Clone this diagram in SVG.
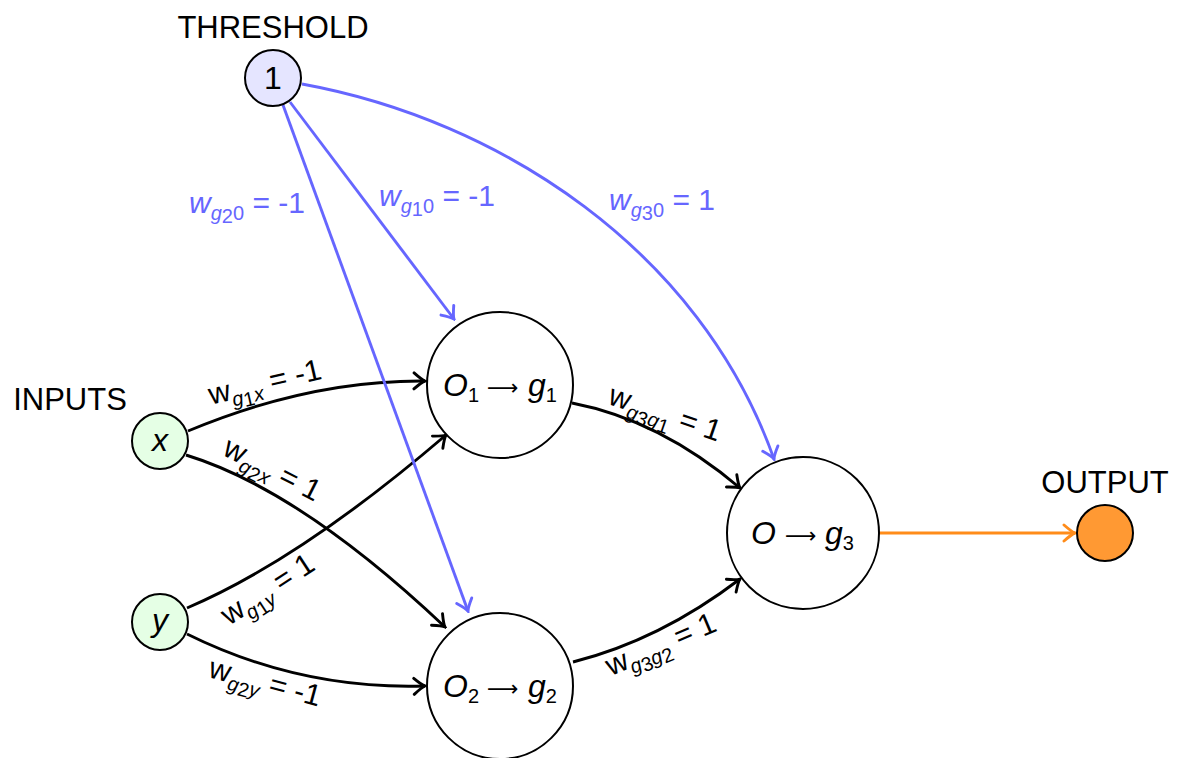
<svg xmlns="http://www.w3.org/2000/svg" width="1177" height="758" viewBox="0 0 1177 758">
<defs>
<style>
text{font-family:"Liberation Sans",Arial,sans-serif;}
.lbl{font-size:31px;fill:#000;text-anchor:middle;}
.node{stroke:#000;stroke-width:2;}
.e{fill:none;stroke-width:2.9;}
.k{stroke:#000;}
.b{stroke:#6666FF;}
.o{stroke:#FF8C1A;}
.el{font-size:30px;text-anchor:middle;}
.it{font-style:italic;}
.sub{font-size:20px;}
.nt{font-size:32px;text-anchor:middle;}
.ns{font-size:32px;}
text tspan.ar{font-family:"DejaVu Sans",sans-serif;font-size:22px;}
</style>
<marker id="ak" viewBox="-13 -10 15 20" refX="0" refY="0" markerWidth="15" markerHeight="20" markerUnits="userSpaceOnUse" orient="auto">
<path d="M-11,-8 Q-3,-1 0,0 Q-3,1 -11,8" fill="none" stroke="#000" stroke-width="2.9" stroke-linecap="round"/>
</marker>
<marker id="ab" viewBox="-13 -10 15 20" refX="0" refY="0" markerWidth="15" markerHeight="20" markerUnits="userSpaceOnUse" orient="auto">
<path d="M-11,-8 Q-3,-1 0,0 Q-3,1 -11,8" fill="none" stroke="#6666FF" stroke-width="2.9" stroke-linecap="round"/>
</marker>
<marker id="ao" viewBox="-13 -10 15 20" refX="0" refY="0" markerWidth="15" markerHeight="20" markerUnits="userSpaceOnUse" orient="auto">
<path d="M-11,-8 Q-3,-1 0,0 Q-3,1 -11,8" fill="none" stroke="#FF8C1A" stroke-width="2.9" stroke-linecap="round"/>
</marker>
</defs>
<rect width="1177" height="758" fill="#fff"/>

<g id="connectors">
<path class="e k" d="M188,431 Q310,380 425,381" marker-end="url(#ak)"/>
<path class="e k" d="M186,455 Q300,490 445,627" marker-end="url(#ak)"/>
<path class="e k" d="M187,608 Q300,560 446,435" marker-end="url(#ak)"/>
<path class="e k" d="M187,634 Q300,690 425,686" marker-end="url(#ak)"/>
<path class="e k" d="M572,403 Q660,420 740,488" marker-end="url(#ak)"/>
<path class="e k" d="M573,662 Q660,640 740,579" marker-end="url(#ak)"/>
<path class="e o" d="M879,533 L1075,533" marker-end="url(#ao)"/>
<path class="e b" d="M290,102 L454,319" marker-end="url(#ab)"/>
<path class="e b" d="M283,105 L468,611" marker-end="url(#ab)"/>
<path class="e b" d="M302,84 C500,120 700,250 774,459" marker-end="url(#ab)"/>

<text class="el" transform="translate(265,383) rotate(-13)" y="9">w<tspan class="sub it" dy="7">g</tspan><tspan class="sub" font-size="14" dy="3">1</tspan><tspan class="sub it" dy="-3">x</tspan><tspan dy="-7"> = -1</tspan></text>
<text class="el" transform="translate(272,470) rotate(27)" y="9">w<tspan class="sub it" dy="7">g</tspan><tspan class="sub" font-size="14" dy="3">2</tspan><tspan class="sub it" dy="-3">x</tspan><tspan dy="-7"> = 1</tspan></text>
<text class="el" transform="translate(268,590) rotate(-33)" y="9">w<tspan class="sub it" dy="7">g</tspan><tspan class="sub" font-size="14" dy="3">1</tspan><tspan class="sub it" dy="-3">y</tspan><tspan dy="-7"> = 1</tspan></text>
<text class="el" transform="translate(265,683) rotate(15)" y="9">w<tspan class="sub it" dy="7">g</tspan><tspan class="sub" font-size="14" dy="3">2</tspan><tspan class="sub it" dy="-3">y</tspan><tspan dy="-7"> = -1</tspan></text>
<text class="el" transform="translate(665,414) rotate(19)" y="9">w<tspan class="sub it" dy="7">g</tspan><tspan class="sub" font-size="14" dy="3">3</tspan><tspan class="sub it" dy="-3">g</tspan><tspan class="sub" font-size="14" dy="3">1</tspan><tspan dy="-10"> = 1</tspan></text>
<text class="el" transform="translate(661,645) rotate(-23)" y="9">w<tspan class="sub it" dy="7">g</tspan><tspan class="sub" font-size="14" dy="3">3</tspan><tspan class="sub it" dy="-3">g</tspan><tspan class="sub" font-size="14" dy="3">2</tspan><tspan dy="-10"> = 1</tspan></text>

<text class="el it" x="247" y="213" fill="#6666FF">w<tspan class="sub" dy="7">g</tspan><tspan class="sub" font-size="14" font-style="normal" dy="3">2</tspan><tspan class="sub" font-style="normal" dy="-3">0</tspan><tspan font-style="normal" dy="-7"> = -1</tspan></text>
<text class="el it" x="437" y="206" fill="#6666FF">w<tspan class="sub" dy="7">g</tspan><tspan class="sub" font-size="14" font-style="normal" dy="3">1</tspan><tspan class="sub" font-style="normal" dy="-3">0</tspan><tspan font-style="normal" dy="-7"> = -1</tspan></text>
<text class="el it" x="662" y="210" fill="#6666FF">w<tspan class="sub" dy="7">g</tspan><tspan class="sub" font-size="14" font-style="normal" dy="3">3</tspan><tspan class="sub" font-style="normal" dy="-3">0</tspan><tspan font-style="normal" dy="-7"> = 1</tspan></text>
</g>

<g id="threshold">
<text class="lbl" x="273" y="38">THRESHOLD</text>
<circle class="node" cx="273" cy="78" r="28" fill="#E5E5FF"/>
<text class="nt" x="273" y="89" font-size="28">1</text>
</g>
<g id="input-x">
<text class="lbl" x="70" y="410">INPUTS</text>
<circle class="node" cx="160" cy="441" r="28" fill="#E5FFE5"/>
<text class="nt it" x="160" y="451">x</text>
</g>
<g id="input-y">
<circle class="node" cx="160" cy="622" r="28" fill="#E5FFE5"/>
<text class="nt it" x="160" y="631">y</text>
</g>
<g id="g1">
<circle class="node" cx="500" cy="385" r="73" fill="#fff"/>
<text class="ns" x="443" y="396"><tspan class="it">O</tspan><tspan class="sub" dy="6">1</tspan><tspan class="ar" x="487" dy="-7">⟶</tspan><tspan class="it" x="528" dy="1">g</tspan><tspan class="sub" dy="6">1</tspan></text>
</g>
<g id="g2">
<circle class="node" cx="500" cy="686" r="73" fill="#fff"/>
<text class="ns" x="443" y="697"><tspan class="it">O</tspan><tspan class="sub" dy="6">2</tspan><tspan class="ar" x="487" dy="-7">⟶</tspan><tspan class="it" x="528" dy="1">g</tspan><tspan class="sub" dy="6">2</tspan></text>
</g>
<g id="g3">
<circle class="node" cx="803" cy="533" r="76" fill="#fff"/>
<text class="ns" x="751" y="544"><tspan class="it">O</tspan><tspan class="ar" x="785" dy="-1">⟶</tspan><tspan class="it" x="825" dy="1">g</tspan><tspan class="sub" dy="6">3</tspan></text>
</g>
<g id="output">
<text class="lbl" x="1105" y="493">OUTPUT</text>
<circle class="node" cx="1105" cy="533" r="28" fill="#FF9933"/>
</g>
</svg>
